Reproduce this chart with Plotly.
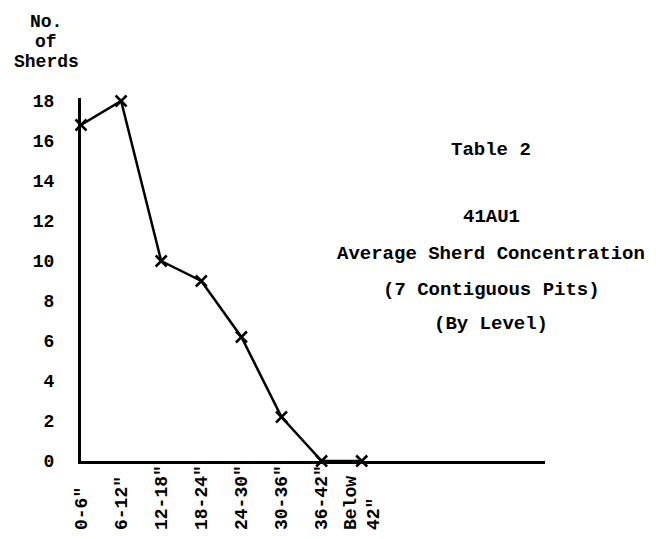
import plotly.graph_objects as go

levels = ['0-6"', '6-12"', '12-18"', '18-24"', '24-30"', '30-36"', '36-42"', 'Below<br>42"']
sherds = [16.8, 18.0, 10.0, 9.0, 6.2, 2.2, 0.0, 0.0]
y_ticks = [0, 2, 4, 6, 8, 10, 12, 14, 16, 18]
title_lines = ["Table 2", "41AU1", "Average Sherd Concentration", "(7 Contiguous Pits)", "(By Level)"]
ylabel_lines = ["No.", "of", "Sherds"]

FONT = "Liberation Mono, Courier New, monospace"


def pad(label):
    # pad every line to the same length with invisible characters so the
    # rotated labels line up at their bottom, like the typewritten original
    parts = label.split("<br>")
    width = max(6, max(len(p) for p in parts))
    out = []
    for p in parts:
        n = width - len(p)
        out.append(p + (f"<span style='color:white'>{'0' * n}</span>" if n else ""))
    return "<br>".join(out)


tick_text = [pad(l) for l in levels]

# page body has an 8px margin; work in window pixels and subtract it
OFF = 8
W, H = 656 - OFF, 539 - OFF
L, R, T, B = 81 - OFF, 545 - OFF, 98 - OFF, 461 - OFF


def px(x):
    return (x - OFF - L) / (R - L)


def py(y):
    return (B - (y - OFF)) / (B - T)


fig = go.Figure()
fig.add_trace(go.Scatter(
    x=list(range(len(levels))), y=sherds, mode="lines+markers",
    line=dict(color="black", width=2.5),
    marker=dict(symbol="x-thin", size=11, line=dict(color="black", width=2.5)),
    cliponaxis=False, showlegend=False,
))

tf = dict(family=FONT, size=18, color="black", weight="bold")
fig.update_xaxes(
    range=[0, 11.57], tickmode="array", tickvals=list(range(len(levels))), ticktext=tick_text,
    tickangle=-90, showgrid=False, zeroline=False, showline=True, linecolor="black", linewidth=3,
    ticks="", ticklabelstandoff=-6, tickfont=tf, automargin=False,
)
fig.update_yaxes(
    range=[0, 18.15], tickmode="array", tickvals=y_ticks, ticktext=[str(v) for v in y_ticks],
    showgrid=False, zeroline=False, showline=True, linecolor="black", linewidth=3,
    ticks="", ticklabelstandoff=20, tickfont=tf, automargin=False,
)

title_y = [150, 217, 254, 290, 324]
for txt, yy in zip(title_lines, title_y):
    fig.add_annotation(text=txt, x=px(491), y=py(yy), xref="paper", yref="paper",
                       showarrow=False, xanchor="center", yanchor="middle",
                       font=dict(family=FONT, size=19, color="black", weight="bold"))

for txt, yy in zip(ylabel_lines, [22, 42, 62]):
    fig.add_annotation(text=txt, x=px(46), y=py(yy), xref="paper", yref="paper",
                       showarrow=False, xanchor="center", yanchor="middle",
                       font=dict(family=FONT, size=18, color="black", weight="bold"))

fig.update_layout(
    width=W, height=H, margin=dict(l=L, r=W - R, t=T, b=H - B),
    paper_bgcolor="white", plot_bgcolor="white",
)

fig.write_html("out.html")
